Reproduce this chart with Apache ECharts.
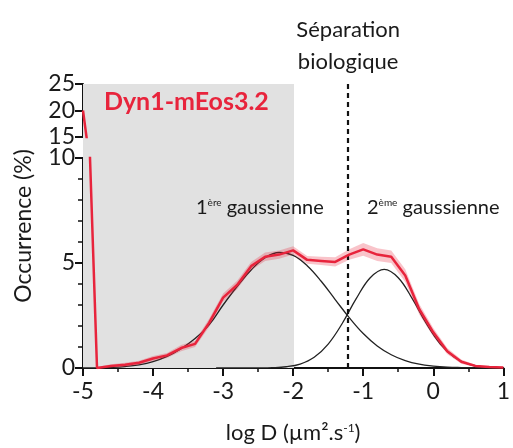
<!DOCTYPE html>
<html><head><meta charset="utf-8">
<script src="https://cdn.jsdelivr.net/npm/echarts@6/dist/echarts.min.js"></script>
<style>html,body{margin:0;padding:0;background:#fff}#c{width:513px;height:448px}</style>
</head><body><div id="c"></div>
<script>
// ---- data ----
const logD = [-5,-4.8,-4.6,-4.4,-4.2,-4,-3.8,-3.6,-3.4,-3.2,-3,-2.8,-2.6,-2.4,-2.2,-2,-1.8,-1.6,-1.4,-1.2,-1,-0.8,-0.6,-0.4,-0.2,0,0.2,0.4,0.6,0.8,1];
const redValues = [20,0,0.1,0.15,0.25,0.45,0.6,0.95,1.15,2.15,3.35,3.95,4.85,5.3,5.4,5.6,5.15,5.1,5.05,5.4,5.65,5.4,5.3,4.4,2.8,1.7,0.8,0.3,0.1,0.05,0.02];
const redErr = [0,0.05,0.08,0.1,0.1,0.12,0.12,0.15,0.15,0.2,0.2,0.2,0.2,0.2,0.2,0.2,0.18,0.2,0.22,0.25,0.3,0.3,0.3,0.3,0.25,0.2,0.15,0.1,0.05,0.03,0.02];
const gauss1 = [0.005,0.01,0.03,0.07,0.15,0.3,0.55,0.92,1.4,2.05,3.0,3.88,4.67,5.25,5.5,5.36,4.87,4.13,3.26,2.4,1.64,1.05,0.63,0.35,0.18,0.09,0.04,0.02,0.01,0,0];
const gauss2X = [-3.1,-2.7,-2.5,-2.3,-2.1,-1.9,-1.7,-1.5,-1.3,-1.1,-0.9,-0.7,-0.5,-0.3,-0.1,0.1,0.3,0.5,0.7,0.9,1.0];
const gauss2 = [0,0,0.004,0.016,0.06,0.19,0.51,1.14,2.12,3.30,4.30,4.70,4.30,3.30,2.12,1.14,0.51,0.19,0.06,0.016,0.007];
const xTicks = [-5,-4,-3,-2,-1,0,1];
const yTicksLow = [0,5,10];
const yTicksHigh = [15,20,25];
const shadedRange = [-5,-2];
const separation = -1.23;
const sampleName = 'Dyn1-mEos3.2';

// ---- build ----
const FONT = 'Lato';
const RED = '#e8243c';
const pairs = (xs, ys) => xs.map((x,i)=>[x, ys[i]]);
const redData = pairs(logD, redValues);
const bandX = logD.slice(1);
const bandHigh = bandX.map((x,i)=>[x, redValues[i+1]+redErr[i+1]]);
const bandLow = bandX.map((x,i)=>[x, Math.max(0, redValues[i+1]-redErr[i+1])]);

const axisLineStyle = {color:'#111', width:2};
const xMin = xTicks[0], xMax = xTicks[xTicks.length-1];

const option = {
  animation:false,
  backgroundColor:'#fff',
  grid:[
    {left:83, right:8, top:158, height:210},  // bottom 0-10
    {left:83, right:8, top:84, height:53},    // top 15-25
    {left:83, right:8, top:84, height:284}    // full-height background
  ],
  xAxis:[
    {gridIndex:0, type:'value', min:xMin, max:xMax, interval:1,
     axisLine:{lineStyle:axisLineStyle, onZero:false},
     axisTick:{length:8, lineStyle:{width:2,color:'#111'}},
     minorTick:{show:true, splitNumber:2, length:4, lineStyle:{width:1.5,color:'#111'}},
     splitLine:{show:false},
     axisLabel:{fontFamily:FONT, fontSize:23, color:'#1a1a1a', margin:12},
     name:'log D (µm².s{sup|-1})', nameLocation:'middle', nameGap:54,
     nameTextStyle:{fontFamily:FONT, fontSize:22, color:'#1a1a1a',
       rich:{sup:{fontFamily:FONT, fontSize:12, color:'#1a1a1a', verticalAlign:'top', padding:[0,0,10,0]}}}},
    {gridIndex:1, type:'value', min:xMin, max:xMax, show:false},
    {gridIndex:2, type:'value', min:xMin, max:xMax, show:false}
  ],
  yAxis:[
    {gridIndex:0, type:'value', min:yTicksLow[0], max:yTicksLow[2], interval:5,
     axisLine:{show:true, onZero:false, lineStyle:axisLineStyle},
     axisTick:{show:true, length:8, lineStyle:{width:2,color:'#111'}},
     minorTick:{show:true, splitNumber:5, length:5, lineStyle:{width:1.5,color:'#111'}},
     splitLine:{show:false},
     axisLabel:{fontFamily:FONT, fontSize:23, color:'#1a1a1a', margin:8}},
    {gridIndex:1, type:'value', min:yTicksHigh[0], max:yTicksHigh[2], interval:5,
     axisLine:{show:true, onZero:false, lineStyle:axisLineStyle},
     axisTick:{show:true, length:8, lineStyle:{width:2,color:'#111'}},
     splitLine:{show:false},
     axisLabel:{fontFamily:FONT, fontSize:23, color:'#1a1a1a', margin:8}},
    {gridIndex:2, type:'value', min:0, max:1,
     axisLine:{show:false, onZero:false}, axisTick:{show:false}, axisLabel:{show:false}, splitLine:{show:false},
     name:'Occurrence (%)', nameLocation:'middle', nameGap:48,
     nameTextStyle:{fontFamily:FONT, fontSize:23, color:'#1a1a1a'}}
  ],
  series:[
    {type:'line', xAxisIndex:2, yAxisIndex:2, data:[], z:0, silent:true,
     markArea:{silent:true, itemStyle:{color:'#e1e1e1'}, data:[[{xAxis:shadedRange[0]},{xAxis:shadedRange[1]}]]}},
    {type:'line', xAxisIndex:0, yAxisIndex:0, data:pairs(logD,gauss1), smooth:0.4, showSymbol:false, z:3,
     lineStyle:{color:'#222', width:1.3}},
    {type:'line', xAxisIndex:0, yAxisIndex:0, data:pairs(gauss2X,gauss2), smooth:0.4, showSymbol:false, z:3,
     lineStyle:{color:'#222', width:1.3}},
    {type:'custom', xAxisIndex:0, yAxisIndex:0, data:[[bandX[0], 0]], z:4, clip:true, silent:true,
     renderItem:(params, api)=>{
       const up = bandHigh.map(p=>api.coord(p));
       const lo = bandLow.map(p=>api.coord(p)).reverse();
       return {type:'polygon', shape:{points:up.concat(lo)}, style:{fill:'rgba(232,36,60,0.27)'}};
     }},
    {type:'line', xAxisIndex:0, yAxisIndex:0, data:redData, showSymbol:false, z:5, clip:true,
     lineStyle:{color:RED, width:2.5}},
    {type:'line', xAxisIndex:1, yAxisIndex:1, data:redData, showSymbol:false, z:5, clip:true,
     lineStyle:{color:RED, width:2.5}},
    {type:'line', xAxisIndex:2, yAxisIndex:2, data:[], z:8, silent:true,
     markLine:{silent:true, symbol:'none', lineStyle:{color:'#111', width:2.2, type:[5,4]},
       label:{show:true, position:'end', formatter:'Séparation\nbiologique', fontFamily:FONT, fontSize:22,
              lineHeight:32, color:'#1a1a1a', distance:6},
       data:[{xAxis:separation}]}}
  ],
  graphic:[
    {type:'text', left:104, top:89, z:20, style:{text:sampleName, fontFamily:FONT, fontSize:25, fontWeight:'bold', fill:RED}},
    {type:'text', left:196, top:198, z:20, style:{text:'1{sup|ère} gaussienne', fontFamily:FONT, fontSize:20, fill:'#1a1a1a',
      rich:{sup:{fontFamily:FONT, fontSize:10, fill:'#1a1a1a', verticalAlign:'top'}}}},
    {type:'text', left:367, top:198, z:20, style:{text:'2{sup|ème} gaussienne', fontFamily:FONT, fontSize:20, fill:'#1a1a1a',
      rich:{sup:{fontFamily:FONT, fontSize:10, fill:'#1a1a1a', verticalAlign:'top'}}}}
  ]
};
const chart = echarts.init(document.getElementById('c'), null, {renderer:'canvas'});
chart.setOption(option);
</script></body></html>
